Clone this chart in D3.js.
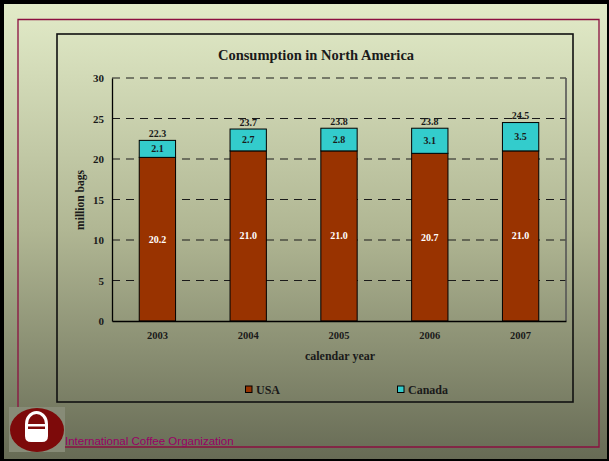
<!DOCTYPE html>
<html>
<head>
<meta charset="utf-8">
<script src="https://cdn.jsdelivr.net/npm/d3@7"></script>
<style>
html,body{margin:0;padding:0;background:#000;}
svg{display:block;}
</style>
</head>
<body>
<script>
const years = ["2003","2004","2005","2006","2007"];
const usa = [20.2, 21.0, 21.0, 20.7, 21.0];
const canada = [2.1, 2.7, 2.8, 3.1, 3.5];
const totals = [22.3, 23.7, 23.8, 23.8, 24.5];
const yTicks = [0,5,10,15,20,25,30];
const seriesNames = ["USA","Canada"];
const seriesColors = ["#993300","#33CCCC"];

const W = 609, H = 461;
const svg = d3.select("body").append("svg").attr("width", W).attr("height", H);
const defs = svg.append("defs");
const grad = defs.append("linearGradient").attr("id","bg").attr("x1",0).attr("y1",0).attr("x2",0).attr("y2",1);
grad.append("stop").attr("offset","0%").attr("stop-color","#e2ebc8");
grad.append("stop").attr("offset","50%").attr("stop-color","#b0b693");
grad.append("stop").attr("offset","100%").attr("stop-color","#676b55");

svg.append("rect").attr("width",W).attr("height",H).attr("fill","#000");
svg.append("rect").attr("x",4).attr("y",4).attr("width",603).attr("height",455).attr("fill","url(#bg)");

// crimson frame
const crimson = "#8b1040";
svg.append("path").attr("d","M18,407 L18,19.5 L599,19.5 L599,447 L65,447")
  .attr("fill","none").attr("stroke",crimson).attr("stroke-width",1.3);

// chart box
svg.append("rect").attr("x",57).attr("y",34).attr("width",516).attr("height",368)
  .attr("fill","none").attr("stroke","#111").attr("stroke-width",1.6);

const serif = "'Liberation Serif','Times New Roman',serif";
const textCol = "#1a1a1a";

svg.append("text").attr("x",316).attr("y",60).attr("text-anchor","middle")
  .attr("font-family",serif).attr("font-weight","bold").attr("font-size","14.5px")
  .attr("fill",textCol).text("Consumption in North America");

const pl = 112, pr = 566, pt = 78, pb = 321;
const x = d3.scaleBand().domain(years).range([pl,pr]).paddingInner(0.6).paddingOuter(0.3);
const y = d3.scaleLinear().domain([0,30]).range([pb,pt]);

// gridlines
const g = svg.append("g");
g.selectAll("line.grid").data(yTicks.filter(d=>d>0)).enter().append("line")
  .attr("x1",pl).attr("x2",pr).attr("y1",d=>y(d)).attr("y2",d=>y(d))
  .attr("stroke","#1a1a1a").attr("stroke-width",1.1).attr("stroke-dasharray","8,6");

// right border of plot
g.append("line").attr("x1",pr).attr("x2",pr).attr("y1",pt).attr("y2",pb)
  .attr("stroke","#555").attr("stroke-width",1.6);

// y axis
const yAxis = d3.axisLeft(y).tickValues(yTicks).tickSize(0).tickPadding(8);
const ya = svg.append("g").attr("transform",`translate(${pl},0)`).call(yAxis);
ya.select(".domain").attr("stroke","#000").attr("stroke-width",1.3);
ya.selectAll("text").attr("font-family",serif).attr("font-weight","bold").attr("font-size","11px").attr("fill",textCol);

// bars
const stack = years.map((yr,i)=>({yr, usa:usa[i], can:canada[i], tot:totals[i]}));
const bars = svg.append("g");
bars.selectAll("rect.usa").data(stack).enter().append("rect")
  .attr("x",d=>x(d.yr)).attr("width",x.bandwidth())
  .attr("y",d=>y(d.usa)).attr("height",d=>y(0)-y(d.usa))
  .attr("fill",seriesColors[0]).attr("stroke","#000").attr("stroke-width",1);
bars.selectAll("rect.can").data(stack).enter().append("rect")
  .attr("x",d=>x(d.yr)).attr("width",x.bandwidth())
  .attr("y",d=>y(d.usa+d.can)).attr("height",d=>y(d.usa)-y(d.usa+d.can))
  .attr("fill",seriesColors[1]).attr("stroke","#000").attr("stroke-width",1);

// x axis
const xAxis = d3.axisBottom(x).tickSize(0).tickPadding(11);
const xa = svg.append("g").attr("transform",`translate(0,${pb})`).call(xAxis);
xa.select(".domain").attr("stroke","#000").attr("stroke-width",1.3);
xa.selectAll("text").attr("font-family",serif).attr("font-weight","bold").attr("font-size","10.5px").attr("fill",textCol);

// labels
const lab = svg.append("g").attr("font-family",serif).attr("font-weight","bold").attr("font-size","10px").attr("text-anchor","middle");
lab.selectAll("text.usa").data(stack).enter().append("text")
  .attr("x",d=>x(d.yr)+x.bandwidth()/2).attr("y",d=>y(d.usa/2)+3.5)
  .attr("fill","#fff").text(d=>d.usa.toFixed(1));
lab.selectAll("text.can").data(stack).enter().append("text")
  .attr("x",d=>x(d.yr)+x.bandwidth()/2).attr("y",d=>y(d.usa+d.can/2)+3.5)
  .attr("fill",textCol).text(d=>d.can.toFixed(1));
lab.selectAll("text.tot").data(stack).enter().append("text")
  .attr("x",d=>x(d.yr)+x.bandwidth()/2).attr("y",d=>y(d.tot)-3.5)
  .attr("fill",textCol).text(d=>d.tot.toFixed(1));

// axis titles
svg.append("text").attr("transform","translate(84,200) rotate(-90)").attr("text-anchor","middle")
  .attr("font-family",serif).attr("font-weight","bold").attr("font-size","11.5px").attr("fill",textCol).text("million bags");
svg.append("text").attr("x",340).attr("y",360).attr("text-anchor","middle")
  .attr("font-family",serif).attr("font-weight","bold").attr("font-size","12px").attr("fill",textCol).text("calendar year");

// legend
const legX = [245, 397];
const leg = svg.append("g");
seriesNames.forEach((n,i)=>{
  leg.append("rect").attr("x",legX[i]+0.5).attr("y",386).attr("width",6.5).attr("height",6.5)
    .attr("fill",seriesColors[i]).attr("stroke","#000").attr("stroke-width",1);
  leg.append("text").attr("x",legX[i]+11).attr("y",393.5)
    .attr("font-family",serif).attr("font-weight","bold").attr("font-size","12px").attr("fill",textCol).text(n);
});

// logo
const logo = svg.append("g");
logo.append("rect").attr("x",9).attr("y",407).attr("width",56).attr("height",45).attr("fill","#878b77");
logo.append("ellipse").attr("cx",37).attr("cy",430).attr("rx",27).attr("ry",22).attr("fill","#7d0a0a");
logo.append("path").attr("d","M25,424 A11.5,13 0 0 1 48,424 L48,436 Q48,442 42,442 L31,442 Q25,442 25,436 Z").attr("fill","#fff");
logo.append("path").attr("d","M28,424 A8.5,10 0 0 1 45,424 Z").attr("fill","#7d0a0a");
logo.append("path").attr("d","M28,426.5 L45,426.5 L45,429 L28,429 Z").attr("fill","#7d0a0a");

svg.append("text").attr("x",65).attr("y",445).attr("font-family","'Liberation Sans',Arial,sans-serif")
  .attr("font-size","11.5px").attr("fill","#990066").text("International Coffee Organization");
</script>
</body>
</html>
